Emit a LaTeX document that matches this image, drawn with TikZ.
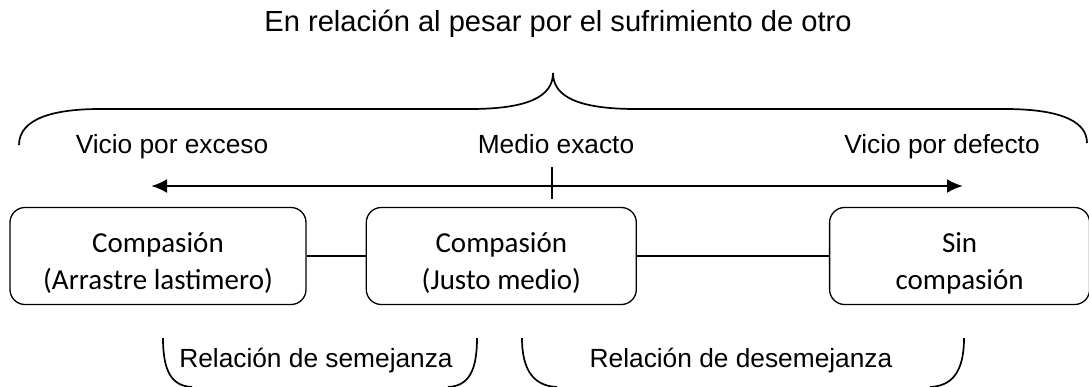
\documentclass[tikz,border=0pt]{standalone}
\usepackage{fontspec}
\setmainfont{Liberation Sans}
\newfontfamily\boxfont{Carlito}
\usetikzlibrary{arrows.meta,positioning}

\begin{document}
\begin{tikzpicture}[x=1pt,y=-1pt,>={Latex[length=16pt,width=14pt]},
  label node/.style={anchor=base,inner sep=0pt,font=\fontsize{26.3}{30}\selectfont},
  main node/.style={draw,rounded corners=15pt,line width=1.3pt,minimum height=97pt,inner sep=0pt},
  box text/.style={align=center,inner sep=0pt,font=\boxfont\fontsize{29}{37}\selectfont},
  brace line/.style={line width=1.7pt}]

  \useasboundingbox (0,0) rectangle (1089,386);

  \node[label node,font=\fontsize{29.1}{34}\selectfont] (title) at (558,31) {En relación al pesar por el sufrimiento de otro};

  \node[label node] (exceso) at (172,153) {Vicio por exceso};
  \node[label node] (medio) at (556,153) {Medio exacto};
  \node[label node] (defecto) at (942,153) {Vicio por defecto};

  \node[main node,minimum width=296pt] (1) at (158,256) {};
  \node[main node,minimum width=270pt] (2) [right=59pt of 1] {};
  \node[main node,minimum width=260pt] (3) [right=192pt of 2] {};

  \node[box text] (t1) at ([yshift=-7pt]1.center) {Compasión\\(Arrastre lastimero)};
  \node[box text] (t2) at ([yshift=-7pt]2.center) {Compasión\\(Justo medio)};
  \node[box text] (t3) at ([yshift=-7pt]3.center) {Sin\\compasión};

  \draw[line width=1.3pt] (1) to (2);
  \draw[line width=1.3pt] (2) to (3);

  % eje de la virtud
  \coordinate (aL) at (151,186);
  \coordinate (aR) at (963,186);
  \coordinate (tT) at (552,167);
  \coordinate (tB) at (552,199);
  \draw[<->,line width=2.7pt] (aL) to (aR);
  \draw[line width=1.8pt] (tT) to (tB);

  % llave superior
  \draw[brace line] (19,145) .. controls (19,118) and (55,109) .. (100,109) -- (470,109)
    .. controls (527,109) and (553,97) .. (553,73)
    .. controls (553,97) and (579,109) .. (636,109) -- (1005,109)
    .. controls (1052,109) and (1087,118) .. (1087,143);

  % llaves inferiores
  \draw[brace line] (163,338) .. controls (163,372) and (172,386) .. (192,387);
  \draw[brace line] (477,338) .. controls (477,372) and (468,386) .. (448,387);
  \draw[brace line] (522,338) .. controls (522,372) and (535,386) .. (557,387);
  \draw[brace line] (964,338) .. controls (964,372) and (952,386) .. (930,387);

  \node[label node] (semejanza) at (316,367) {Relación de semejanza};
  \node[label node] (desemejanza) at (741,367) {Relación de desemejanza};

\end{tikzpicture}
\end{document}
